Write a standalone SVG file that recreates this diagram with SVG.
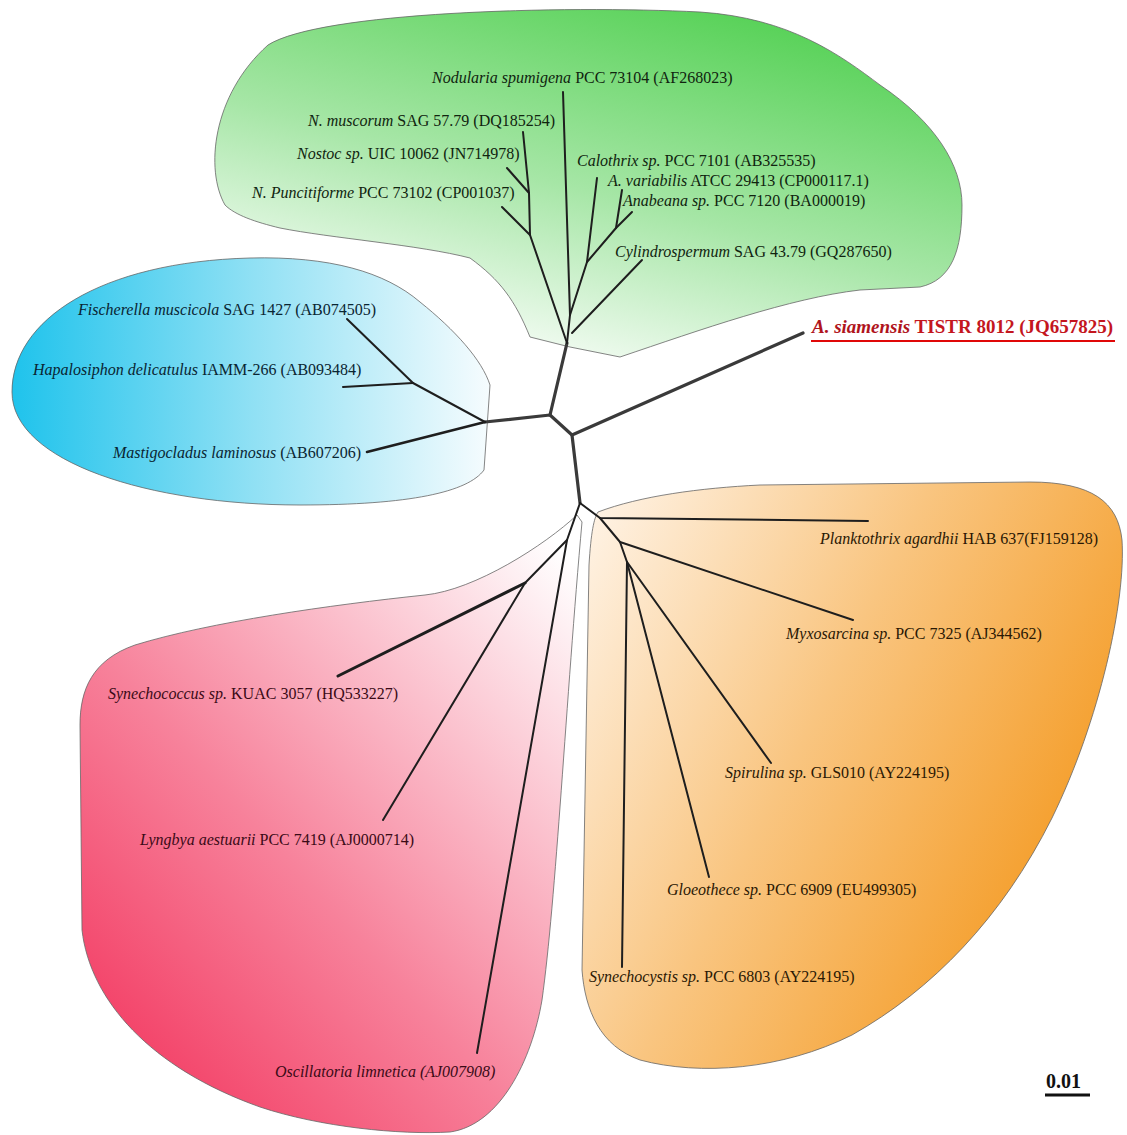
<svg xmlns="http://www.w3.org/2000/svg" width="1127" height="1135" viewBox="0 0 1127 1135">
<defs>
<linearGradient id="gGreen" x1="0.85" y1="0" x2="0.3" y2="1">
<stop offset="0" stop-color="#4dcf4d"/>
<stop offset="0.55" stop-color="#a6e6a6"/>
<stop offset="1" stop-color="#ffffff"/>
</linearGradient>
<linearGradient id="gBlue" x1="0" y1="0" x2="1" y2="0">
<stop offset="0" stop-color="#1fc3ec"/>
<stop offset="0.5" stop-color="#8fe0f4"/>
<stop offset="1" stop-color="#f6fcfe"/>
</linearGradient>
<linearGradient id="gPink" x1="0" y1="1" x2="0.9" y2="0">
<stop offset="0" stop-color="#f22a55"/>
<stop offset="0.45" stop-color="#f7829b"/>
<stop offset="1" stop-color="#ffffff"/>
</linearGradient>
<linearGradient id="gOrange" x1="0" y1="0" x2="1" y2="0.55">
<stop offset="0" stop-color="#fff6ec"/>
<stop offset="0.5" stop-color="#f9c580"/>
<stop offset="1" stop-color="#f49a22"/>
</linearGradient>
</defs>
<style>
.blob{stroke:#666;stroke-width:0.8}
.br{fill:none;stroke:#1e1e1e;stroke-width:2;stroke-linecap:round;stroke-linejoin:round}
.thick{stroke:#3a3a3a;stroke-width:3.2}
.lbl{font-family:"Liberation Serif","Times New Roman",serif;font-size:16px}
.it{font-style:italic}
.tg{fill:#10240f}
.tb{fill:#0a2532}
.tp{fill:#3a0a16}
.to{fill:#2a1804}
.sia{font-family:"Liberation Serif","Times New Roman",serif;font-size:19px;font-weight:bold;fill:#c4161e}
.scale{font-family:"Liberation Serif","Times New Roman",serif;font-size:20px;font-weight:bold;fill:#111}
</style>
<rect width="1127" height="1135" fill="#ffffff"/>

<g id="clades">
<path id="clade-green" class="blob" fill="url(#gGreen)" d="M 225,205 C 205,170 212,95 268,45 C 320,12 560,5 700,12 C 790,18 840,55 880,85 C 935,122 962,165 962,205 C 962,250 952,280 920,287 L 860,290 C 790,298 700,330 620,357 L 570,347 L 530,337 C 515,300 500,280 470,258 C 420,245 330,238 280,228 C 255,222 235,215 225,205 Z"/>
<path id="clade-blue" class="blob" fill="url(#gBlue)" d="M 12,392 C 12,320 100,262 250,258 C 330,256 385,272 420,302 C 455,330 482,360 490,385 L 484,470 C 468,492 410,505 300,505 C 150,505 12,462 12,392 Z"/>
<path id="clade-pink" class="blob" fill="url(#gPink)" d="M 577,515 C 545,545 475,590 425,595 C 330,605 210,622 135,645 C 92,660 80,690 80,725 L 82,930 C 90,1000 150,1068 260,1107 C 320,1127 400,1135 450,1132 C 500,1125 532,1060 542,1000 C 556,900 566,700 582,522 Z"/>
<path id="clade-orange" class="blob" fill="url(#gOrange)" d="M 598,512 C 640,496 700,488 760,485 L 1030,482 C 1092,482 1118,502 1122,540 C 1126,600 1100,720 1052,818 C 1002,918 932,990 852,1035 C 782,1070 700,1076 640,1060 C 600,1046 585,1010 582,970 L 589,565 C 591,532 594,518 598,512 Z"/>
</g>

<g id="connectors">
<polyline class="br thick" points="485,422 550,415 572,435 580,503"/>
<polyline class="br thick" points="550,415 567,343"/>
<polyline class="br thick" points="572,435 803,333"/>
<polyline class="br" points="567,343 530,235 529,193 523,132"/>
<polyline class="br" points="529,193 507,168"/>
<polyline class="br" points="530,235 502,207"/>
<polyline class="br" points="567,343 570,315 563,92"/>
<polyline class="br" points="570,315 587,262 597,178"/>
<polyline class="br" points="587,262 616,228 622,190"/>
<polyline class="br" points="616,228 632,212"/>
<polyline class="br" points="572,333 642,260"/>
<polyline class="br" points="485,422 367,452" style="stroke-width:2.6"/>
<polyline class="br" points="485,422 413,383 347,319"/>
<polyline class="br" points="413,383 343,387"/>
<polyline class="br" points="580,503 600,518 868,521"/>
<polyline class="br" points="600,518 620,542 853,620"/>
<polyline class="br" points="620,542 627,562 771,763"/>
<polyline class="br" points="627,562 709,877"/>
<polyline class="br" points="627,562 622,967"/>
<polyline class="br" points="580,503 567,540 525,583"/>
<polyline class="br" points="525,583 338,676" style="stroke-width:3"/>
<polyline class="br" points="525,583 383,820"/>
<polyline class="br" points="567,540 477,1053"/>
</g>

<g id="leaf-nodularia"><text class="lbl tg" x="432" y="83"><tspan class="it">Nodularia spumigena</tspan> PCC 73104 (AF268023)</text></g>
<g id="leaf-nmuscorum"><text class="lbl tg" x="308" y="126"><tspan class="it">N. muscorum</tspan> SAG 57.79 (DQ185254)</text></g>
<g id="leaf-nostoc"><text class="lbl tg" x="297" y="159"><tspan class="it">Nostoc sp.</tspan> UIC 10062 (JN714978)</text></g>
<g id="leaf-npunc"><text class="lbl tg" x="252" y="198"><tspan class="it">N. Puncitiforme</tspan> PCC 73102 (CP001037)</text></g>
<g id="leaf-calothrix"><text class="lbl tg" x="577" y="166"><tspan class="it">Calothrix sp.</tspan> PCC 7101 (AB325535)</text></g>
<g id="leaf-avariabilis"><text class="lbl tg" x="608" y="186"><tspan class="it">A. variabilis</tspan> ATCC 29413 (CP000117.1)</text></g>
<g id="leaf-anabaena"><text class="lbl tg" x="623" y="206"><tspan class="it">Anabeana sp.</tspan> PCC 7120 (BA000019)</text></g>
<g id="leaf-cylindro"><text class="lbl tg" x="615" y="257"><tspan class="it">Cylindrospermum</tspan>  SAG 43.79 (GQ287650)</text></g>
<g id="leaf-fischerella"><text class="lbl tb" x="78" y="315"><tspan class="it">Fischerella muscicola</tspan> SAG 1427 (AB074505)</text></g>
<g id="leaf-hapalosiphon"><text class="lbl tb" x="33" y="375"><tspan class="it">Hapalosiphon delicatulus</tspan> IAMM-266 (AB093484)</text></g>
<g id="leaf-mastigocladus"><text class="lbl tb" x="113" y="458"><tspan class="it">Mastigocladus laminosus</tspan> (AB607206)</text></g>
<g id="leaf-siamensis">
<text class="sia" x="812" y="333"><tspan font-style="italic" fill="#b0141c">A. siamensis</tspan> TISTR 8012 (JQ657825)</text>
<line x1="811" y1="341" x2="1115" y2="341" stroke="#e00808" stroke-width="2"/>
</g>
<g id="leaf-planktothrix"><text class="lbl to" x="820" y="544"><tspan class="it">Planktothrix agardhii</tspan> HAB 637(FJ159128)</text></g>
<g id="leaf-myxosarcina"><text class="lbl to" x="786" y="639"><tspan class="it">Myxosarcina sp.</tspan> PCC 7325 (AJ344562)</text></g>
<g id="leaf-spirulina"><text class="lbl to" x="725" y="778"><tspan class="it">Spirulina sp.</tspan> GLS010 (AY224195)</text></g>
<g id="leaf-gloeothece"><text class="lbl to" x="667" y="895"><tspan class="it">Gloeothece sp.</tspan> PCC 6909 (EU499305)</text></g>
<g id="leaf-synechocystis"><text class="lbl to" x="589" y="982"><tspan class="it">Synechocystis sp.</tspan> PCC 6803 (AY224195)</text></g>
<g id="leaf-synechococcus"><text class="lbl tp" x="108" y="699"><tspan class="it">Synechococcus sp.</tspan> KUAC 3057 (HQ533227)</text></g>
<g id="leaf-lyngbya"><text class="lbl tp" x="140" y="845"><tspan class="it">Lyngbya aestuarii</tspan> PCC 7419 (AJ0000714)</text></g>
<g id="leaf-oscillatoria"><text class="lbl tp it" x="275" y="1077">Oscillatoria limnetica (AJ007908)</text></g>

<g id="scale-bar">
<text class="scale" x="1046" y="1088">0.01</text>
<line x1="1045" y1="1095" x2="1090" y2="1095" stroke="#111" stroke-width="3"/>
</g>
</svg>
